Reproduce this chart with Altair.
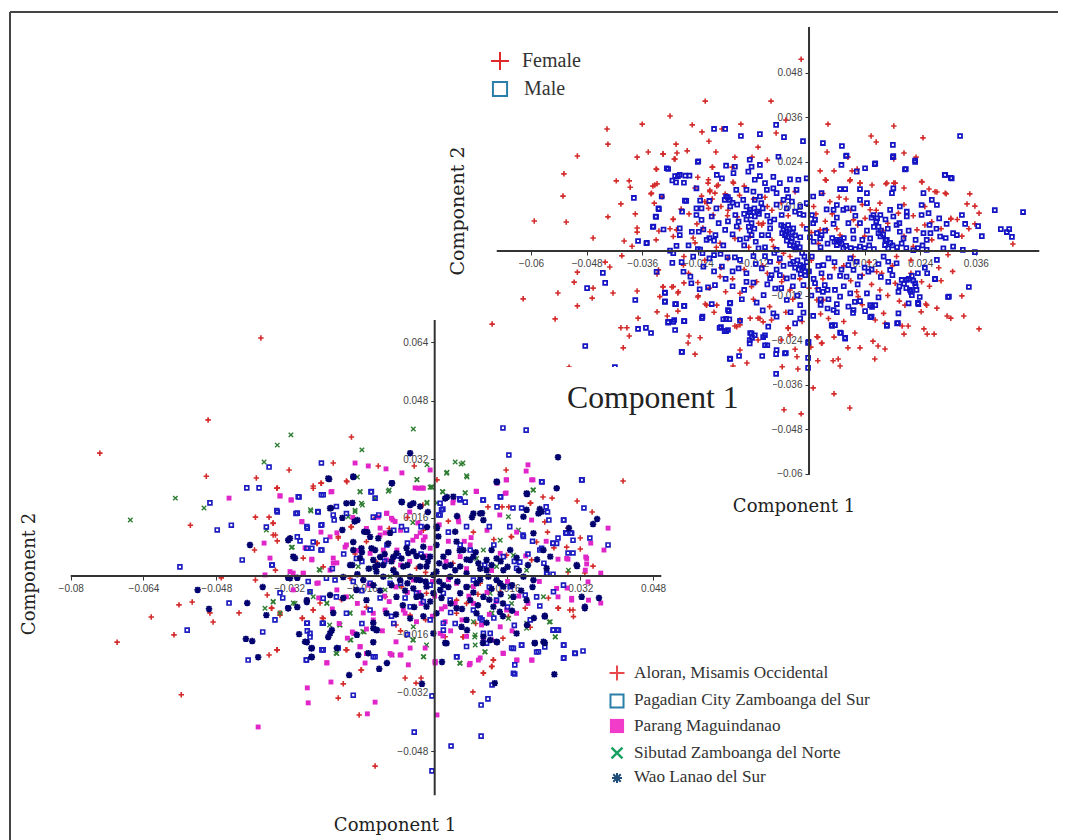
import altair as alt
import pandas as pd

female = [(-224,404),(-82,404),(-300,364),(-360,342),(-252,340),(-147,342),(-436,329),(-434,288),(-231,321),(-188,329),(-216,296),(-287,288),(-500,256),(-371,253),(-347,267),(-315,261),(-263,270),
(-17,517),(-50,353),(-71,318),(41,342),(183,337),(134,310),(145,294),(246,305),(39,267),(205,264),(231,253),(84,253),(183,248),(24,216),(54,216),(93,216),(104,221),(88,189),(110,183),(136,178),(166,181),(183,183),(205,170),(244,186),(259,167),(276,159),(296,154),(347,154),(341,127),(358,121),(367,102),(306,86),(358,73),(440,19),(37,191),
(367,-210),(330,-121),(298,-175),(306,-181),(334,-175),(276,-154),(252,-143),(242,-164),(248,-210),(255,-224),(270,-224),(205,-224),(214,-202),(201,-202),(164,-264),(149,-256),(138,-243),(142,-291),(110,-261),(84,-261),(99,-221),(54,-232),(63,-291),(67,-310),(52,-296),(19,-296),(19,-232),(28,-248),(4,-259),(-26,-285),(-24,-318),(-58,-312),(-45,-207),(-41,-226),(9,-369),(54,-385),(88,-423),(-17,-439),(-54,-428),
(-404,-13),(-430,-43),(-440,-30),(-500,-57),(-507,-84),(-466,-100),(-468,-127),(-542,-113),(-617,-129),(-500,-148),(-548,-183),(-684,-197),(-423,-113),(-371,-108),(-328,-164),(-369,-181),(-306,-175),(-283,-162),(-283,-113),(-328,-62),(-315,-97),(-296,-97),(-270,-86),(-406,-207),(-393,-207),(-388,-229),(-401,-261),(-259,-229),(-235,-234),(-261,-248),(-246,-278),(-518,-313),(-164,-310),(-134,-302),(-149,-267),(-199,-146),(-240,-124),(-224,-143),(-127,-181),(-110,-181),(-149,-199),(-160,-202),
(-593,81),(-524,78),(-531,148),(-529,208),(-416,189),(-434,92),(-406,127),(-466,35),(-388,189),(-386,172),(-375,100),(-371,62),(-371,51),(-399,27),(-382,13),(-330,221),(-337,175),(-328,181),(-341,154),(-334,129),(-317,146),(-293,86),(-324,54),(-276,113),(-259,100),(-285,264),(-291,248),(-201,267),(-160,253),(-110,280),(-166,226),(-209,226),(-240,199),(-218,183),(-199,175),(-181,154),(-164,186),(-214,164),(-220,129),(-209,140),(-203,156),(-242,73),(-229,62),(-175,110),(-155,92),(-99,75),(-90,245),(-123,253),
(-333,178),(-340,156),(-329,220),(-315,262),(-289,248),(-208,226),(-217,192),(-214,160),(-196,178),(-163,183),(-225,133),(-217,115),(-207,97),(-293,85),(-286,57),(-293,39),(-214,52),(-246,22),(-192,21),(-160,34),(-109,75),(-102,70),(-127,39),(-77,12),(-55,-6),(-41,-15),(24,57),(38,57),(67,43),(45,133),(35,192),(89,192),(110,183),(168,183),(186,183),(243,187),(272,160),(294,156),(265,79),(306,88),(132,111),(121,88),(96,84),(153,129),(193,102),(233,57),(225,12),(189,-15),(146,-56),(157,-60),(103,-110),(106,-123),(153,-105),(186,-87),(243,-83),(254,-146),(207,-146),(161,-168),(164,-195),(143,-186),(42,-182),(31,-132),(17,-101),(-41,-105),(-59,-83),(-113,-83),(-149,-114),(-124,-96),(-221,-146),(-239,-121),(-293,-96),(-315,-96),(-322,-123),(-282,-110),(-325,-51),(-271,-38),(-192,-69),(-149,-186),(-106,-182),(-81,-186),(-156,-204),(-99,-191),(-45,-209),(17,-231),(27,-249),(17,-132),
(-80,30),(-65,-30),(-20,-75),(5,-25),(20,20),(35,80),(60,60),(75,-40),(95,-15),(120,40),(130,-30),(160,55),(180,-40),(205,40),(220,-25),(250,70),(265,30),(280,-45),(300,-10),(330,40),(-100,-40),(-130,10),(-150,60),(-175,-20),(-200,10),(-225,-25),(-250,35),(-270,-15),(-300,60),(-330,30),(-120,140),(-90,120),(-60,130),(-30,160),(10,120),(50,100),(80,140),
(-246,170),(-232,148),(-190,120),(-176,95),(-150,150),(-140,175),(-95,145),(-80,110),(-45,95),(-15,70),(5,50),(15,100),(30,155),(65,145),(90,110),(105,70),(115,125),(145,110),(170,75),(205,125),(225,95),(250,120),(285,60),(320,85),(345,60),(-190,-45),(-165,-75),(-140,-50),(-90,-60),(-55,-70),(-35,-130),(0,-100),(30,-75),(55,-45),(90,-80),(115,-65),(135,-90),(170,-120),(195,-135),(220,-60),(260,-95),(285,-80),(310,-55),(-260,-60),(-240,-85),(-215,-100),(-180,-110),(-120,-130),(-85,-150),(-50,-165),(-15,-190),(25,-170),(75,-190),(115,-145),(-60,-240),(-30,-265),(-110,-240),(-205,-165)]

male = [(-66,254),(-239,242),(-128,246),(-179,230),(-160,227),(-124,227),(-106,232),(81,257),(70,232),(182,256),(229,244),(143,236),(121,223),(103,214),(207,220),(-307,223),
(-289,202),(-279,205),(-258,203),(-287,185),(-270,184),(-199,205),(-188,196),(-163,210),(-131,214),(-106,202),(-77,200),(-41,193),(-23,192),(-5,196),(-117,192),(-95,183),(-63,183),(-243,169),(67,167),(78,167),(110,167),(125,156),(182,169),(179,156),(247,156),(294,205),(308,196),(27,156),(9,147),
(-318,147),(-268,136),(-235,136),(-179,147),(-171,138),(-157,165),(-135,165),(-120,160),(-106,147),(-91,165),(-77,169),(-70,156),(-48,165),(-27,165),(-55,138),(-37,133),(-142,138),(-117,138),(-103,129),(-19,120),(-5,129),(60,124),(81,115),(96,115),(110,138),(125,129),(175,111),(196,120),(211,106),(243,124),(265,138),(276,124),
(-325,115),(-243,115),(-232,115),(-243,97),(-331,93),(-274,106),(-159,97),(-127,111),(-112,106),(-117,93),(-59,97),(-48,115),(-30,106),(-12,97),(6,97),(13,84),(38,112),(53,111),(74,111),(139,97),(154,97),(147,88),(182,93),(211,93),(243,97),(258,102),(281,88),
(-232,84),(-210,93),(-152,79),(-124,75),(-84,79),(-55,66),(-45,70),(-48,52),(-34,61),(9,75),(17,48),(27,43),(53,73),(110,75),(150,48),(154,39),(189,70),(196,52),(247,48),(262,48),(297,73),(311,48),
(-336,66),(-314,58),(-279,61),(-279,43),(-253,52),(-238,52),(-228,58),(-181,57),(-202,43),(-156,66),(-124,43),(-102,43),(-88,43),(-84,61),(-52,43),(-37,34),(-19,37),(2,37),(24,34),(67,30),(96,34),(132,34),(168,30),(204,34),(254,30),(283,39),(319,43),
(-351,21),(-286,14),(-221,30),(-205,28),(-149,31),(-135,34),(-41,16),(60,16),(74,7),(110,12),(164,16),(171,7),(254,3),(290,7),(311,12),(-235,4),(-300,1),(-109,7),(-70,3),(-30,4),
(-293,-6),(-230,-6),(-205,-11),(-191,-8),(-176,-17),(-160,-17),(-149,-24),(-120,-14),(-95,-14),(-84,-29),(-63,-20),(-34,-29),(-19,-38),(6,-15),(31,-38),(42,-20),(89,-20),(85,-38),(103,-29),(161,-15),(171,-29),(189,-33),(276,-24),(-295,-32),
(-329,-56),(-271,-56),(-256,-69),(-228,-42),(-188,-42),(-152,-47),(-102,-47),(-81,-65),(-84,-74),(-63,-65),(-48,-74),(-34,-69),(-9,-56),(-12,-42),(45,-69),(67,-67),(81,-69),(110,-69),(128,-56),(96,-51),(27,-60),(211,-78),(222,-67),(272,-76),(175,-51),
(-311,-112),(-254,-87),(-236,-103),(-218,-98),(-203,-92),(-135,-83),(-73,-101),(-98,-119),(-48,-132),(-12,-92),(13,-87),(20,-105),(34,-92),(56,-105),(67,-123),(89,-114),(125,-114),(171,-83),(193,-110),(218,-105),(229,-87),(222,-119),
(-311,-136),(-289,-143),(-269,-148),(-210,-143),(-171,-141),(-113,-139),(-19,-146),(42,-130),(60,-143),(85,-150),(99,-137),(132,-146),(143,-146),(215,-141),(236,-143),(302,-123),
(-230,-177),(-175,-159),(-185,-184),(-172,-184),(-149,-188),(-304,-193),(-293,-191),(-269,-189),(-289,-213),(-77,-168),(-70,-177),(-12,-166),(-19,-182),(-30,-195),(9,-175),(53,-159),(49,-200),(96,-159),(135,-177),(193,-168),(190,-195),(168,-200),
(-352,-207),(-341,-221),(-193,-207),(-182,-216),(-175,-213),(-124,-222),(-117,-227),(-128,-240),(-128,-249),(-95,-227),(-88,-204),(-95,-254),(-70,-267),(-52,-276),(-275,-272),(-171,-290),(-1,-245),(56,-200),(67,-220),(78,-236),
(-205,329),(-181,329),(-71,340),(-106,315),(-147,310),(-240,240),(-304,221),(-283,202),(-267,203),(-295,190),(-378,143),(-324,113),(-330,92),(-337,65),(-369,27),(-350,22),(-265,135),
(326,310),(181,286),(71,283),(30,291),(-13,296),(-54,307),(80,256),(142,234),(209,221),(229,240),(181,253),(293,205),(306,197),(330,97),(337,73),(365,67),(373,40),(401,110),(462,105),(414,59),(427,51),(432,59),(438,38),(358,-3),(332,3),
(-445,-59),(-440,-86),(-479,-100),(-375,-132),(-311,-113),(-311,-137),(-287,-143),(-270,-148),(-369,-210),(-483,-256),(-304,-191),(-291,-186),(-270,-189),(-231,-181),(-170,-140),(-173,-162),(-179,-183),(-190,-205),(-179,-216),(-274,-272),(-170,-291),(-151,-283),(-101,-283),(-71,-278),(-127,-221),(-123,-234),(-99,-232),(-90,-254),(-71,-331),(-419,-313),
(272,-75),(345,-97),(300,-124),(192,-194),(168,-202),(78,-234),(69,-221),(50,-202),(136,-151),(121,-162),(95,-167),(132,-178),(235,-140),(239,-124),(-2,-248),(-2,-315),(-2,-288),(-50,-275),
(-60,70),(-55,58),(-50,45),(-44,38),(-38,25),(-33,14),(-28,8),(-58,48),(-42,58),(-30,42),(-48,28),(-36,50),(-25,20),(-20,10),(-15,-5),(-10,-15),(-5,-30),(-15,-45),(-22,-50),(-8,-65),(-30,-45),(-40,-35),(-25,-25),(0,-55),(-18,-62),
(60,30),(65,25),(70,20),(55,25),(75,35),(80,14),(90,8),(100,5),(50,35),
(135,90),(145,80),(150,65),(155,55),(140,65),(160,45),(165,30),(175,22),(180,15),(190,10),(200,20),(210,8),(225,2),(235,8),(130,15),(120,8),(140,5),
(215,-75),(225,-80),(230,-95),(220,-110),(210,-100),(205,-88),(232,-105),(200,-78),(195,-95),
(-135,120),(-128,105),(-118,115),(-108,100),(-125,95),(-100,115),(-175,145),(-182,138),(-165,130),(-170,120),(-155,125),(-140,100),(-135,85),(-128,55),(-130,65),(-118,60),
(-90,95),(-75,85),(-70,125),(-45,145),(-20,100),(-5,60),(10,25),(25,10),(40,20),(35,55),(60,90),(85,75),(95,55),(115,30),(125,55),(100,95),(165,85),(170,60),(195,75),(215,55),(230,30),(245,15),(260,70),(275,60),(295,35),(-200,115),(-215,135),(-195,75),(-175,80),(-165,45),(-140,15),(-115,25),(-95,10),(-75,-5),(-55,-40),(-70,-50),(-115,-35),(-135,-60),(-165,-55),(-205,-55),(-180,-75),(-165,-95),(-140,-105),(-120,-85),(-90,-90),(-60,-100),(-35,-95),(-25,-120),(5,-120),(25,-130),(40,-105),(75,-95),(105,-90),(120,-45),(135,-50),(150,-35),(155,-70),(70,-50),(55,-30),(20,-40),(10,-75),(30,-110),(60,-165),(40,-155),(25,-145),(110,-135),(150,-125),(180,-65),(250,-45),(255,-60),(235,-60),(-250,-15),(-275,-30),(-215,-20),(-240,5),(-260,15),(-215,35),(-185,15),(-145,-130),(-100,-160),(-40,-165)]

aloran = [(-382,651),(-498,427),(-736,336),(-502,273),(-183,380),(-320,290),(-392,268),(-346,241),(-537,139),(-394,161),(-364,161),(-355,145),(-350,112),(-346,96),(-396,71),(-267,246),(-249,254),(-194,260),(-223,309),(-124,301),(-45,301),(-183,134),(-212,104),(-289,49),(-258,90),(-350,16),(-469,-5),(-394,-11),(-245,25),(-26,194),(5,263),
(414,260),(157,290),(269,241),(238,216),(258,213),(313,205),(346,175),(211,200),(242,148),(248,120),(293,131),(320,104),(163,189),(148,189),(117,189),(169,107),(224,93),(262,77),(290,79),(320,74),(348,27),(330,8),(293,11),(271,-88),(304,-93),
(-562,-79),(-533,-71),(-494,-101),(-487,-126),(-623,-112),(-698,-181),(-573,-161),(-557,-325),(-430,-101),(-368,-52),(-359,-88),(-340,-101),(-364,-216),(-346,-202),(-291,-115),(-267,-93),(-247,-115),(-252,-74),(-195,-202),(-162,-257),(-201,-295),(-212,-334),(-166,-380),(-65,-279),(-41,-293),(-30,-279),(-131,-520),
(84,-317),(107,-265),(126,-247),(129,-229),(62,-167),
(-347,240),(-267,240),(-250,254),(-193,258),(-355,144),(-355,112),(-184,135),(-212,108),(-259,89),(-150,94),(-40,21),(-18,-47),(48,-102),(23,-166),(63,-166),(129,-230),(125,-248),(107,-266),(272,-88),(297,-93),(305,-111),(168,108),(210,199),(158,57),(213,44),(199,-88),(162,-111),(-186,-6),(-267,-93),(-245,-116),(-291,-116),(-340,-107),(-358,-88),(-193,-202),(-161,-257),(-347,-202),(-85,-134),(-54,-107),(-73,-29),(-109,-57),(48,-66),(70,-75),(100,-20),
(-130,160),(-100,130),(-60,160),(-25,125),(30,150),(85,120),(130,100),(-175,60),(-130,40),(-90,20),(-20,10),(40,35),(95,-50),(145,-45),(-205,-65),(-150,-85),(-75,-150),(-20,-120),(90,-130),(150,-170),(210,-140),(250,-60)]

pagadian = [(-364,298),(-249,309),(-413,241),(-386,241),(-298,216),(-245,222),(-494,200),(-346,175),(-478,126),(-447,139),(-560,25),(-423,44),(-302,172),(-370,134),(-280,131),(-250,139),(-239,98),(-302,107),(-296,96),(-267,93),(-250,71),(-357,30),(-256,175),(-221,153),(-140,230),(-131,213),(-135,161),
(150,405),(201,399),(163,331),(236,257),(324,263),(145,216),(106,208),(137,189),(172,186),(191,186),(248,175),(245,189),(251,153),(284,153),(328,186),(288,118),(299,118),(304,98),(271,104),(341,104),(381,85),(260,90),(304,63),(293,63),(231,71),(247,5),(260,5),(187,38),(194,112),(55,211),(67,202),(9,167),(18,183),
(-452,-74),(-544,-148),(-378,-153),(-410,-230),(-334,-60),(-340,-46),(-351,-120),(-280,-129),(-280,-150),(-274,-167),(-247,-129),(-245,-202),(-282,-230),(-131,-221),(-179,-326),(-45,-427),(-6,-328),(-6,-533),(-212,-197),
(36,-465),(102,-438),(102,-353),(117,-336),(126,-298),(176,-243),(176,-268),(284,-189),(284,-224),(308,-211),(326,-205),(224,-208),(169,-197),(242,-194),(191,-189),(49,-221),(260,-148),(269,-148),(104,-120),(231,-82),
(-347,179),(-305,171),(-257,176),(-248,140),(-281,135),(-300,217),(-249,222),(-223,167),(-216,190),(-139,231),(-194,171),(-123,167),(-73,135),(-62,126),(12,167),(15,181),(56,208),(107,208),(144,217),(235,258),(323,263),(283,153),(301,117),(290,117),(268,89),(260,89),(235,76),(-172,48),(-281,76),(-270,76),(-248,71),(-358,30),(-278,-15),(-238,-6),(-219,-11),(-179,-15),(-245,-61),(-274,-43),(-245,-129),(-281,-129),(-274,-157),(-248,-202),(-282,-230),(-135,-221),(107,-157),(122,-157),(114,-184),(173,-266),(173,-198),(191,-189),(228,-207),(283,-189),(283,-225),(309,-212),(261,-148),(272,-148),(199,-52),(224,-57),(261,-43),(283,-25),(246,7),(12,199),(56,85),(78,71),(151,53),(195,108),(180,21),(85,-11),(19,-47),(-40,-47),(-98,-20),(-142,-20),(-54,-84),(34,-66),(85,-93),(136,-66),(166,-29),(19,-129),(19,-148),(48,-221),(70,-193),(-10,-120),(-142,-93),(-194,-102),(-216,-57),
(-30,60),(-80,55),(-110,40),(30,65),(110,30),(130,85),(175,40),(215,95),(70,-30),(120,-30),(-10,-25),(-65,-60),(-120,-60),(-160,40),(160,-85),(100,-115),(45,-130),(-90,-130),(-160,-130),(-60,90),
(-200,60),(-225,20),(-160,-40),(-105,85),(-90,125),(-30,135),(30,120),(70,135),(120,135),(165,135),(205,60),(240,35),(35,-100),(-25,-70),(-75,-20),(-95,-110),(130,-115),(175,-135),(210,-120),(-60,-160)]

parang = [(-43,241),(-175,309),(-146,301),(-107,293),(-72,282),(-10,290),(-452,213),(-340,219),(-316,208),(-228,230),(-375,90),(-362,49),(-292,148),(-285,77),(-270,44),(-197,79),(-215,118),(-230,107),(-223,49),(-215,36),(-311,8),(-289,8),(-124,161),(-105,172),(-92,153),(-120,131),(-109,118),(-37,145),(-32,118),(-83,71),(-92,44),(-48,98),(-21,107),
(205,304),(201,287),(157,263),(216,263),(137,254),(91,232),(157,227),(-28,241),(40,200),(51,161),(53,148),(143,167),(381,131),(343,90),(372,71),(332,52),(334,33),(365,8),(271,46),(293,46),(337,-16),(271,-57),(301,-66),(338,-66),(365,-74),(291,-33),
(-388,-413),(-278,-347),(-280,-306),(-148,-377),(-131,-345),(-228,-290),(-237,-238),(-153,-238),(-164,-194),(-181,-153),(-192,-170),(-94,-216),(-74,-216),(-58,-243),(-54,-197),(1,-238),(5,-380),(-157,-101),(-135,-120),(-256,-19),(-373,3),(-311,-38),(-215,-38),
(214,-230),(76,-243),(100,-224),(150,-211),(181,-230),(1,-235),(-21,-197),(18,-164),
(-340,219),(-315,208),(-226,231),(-292,149),(-270,46),(-318,12),(-289,7),(-230,16),(-223,35),(-194,85),(-106,171),(-120,112),(-95,158),(-87,149),(-36,240),(-25,240),(41,208),(52,153),(92,231),(155,226),(158,263),(213,263),(213,153),(290,48),(334,48),(331,16),(268,-34),(301,-61),(-113,71),(-106,44),(-142,62),(-40,108),(-25,98),(-10,76),(78,85),(144,62),(56,53),(-47,-11),(48,-20),(85,-29),(-69,-93),(-65,-102),(-109,-93),(-135,-102),(-194,-57),(-259,-20),(23,-125),(45,-75),(23,-84),(103,-134),(180,-102),(158,-93),(107,-175),(144,-139),(151,-212),(180,-230),(96,-230),(78,-239),(1,-234),(-76,-216),(-98,-212),(-164,-193),(-178,-157),(-150,-212),(-237,-237),(12,-157),(213,-230),
(-75,30),(-55,40),(-20,55),(-5,-15),(25,40),(30,-10),(65,95),(70,20),(115,-45),(125,15),(160,-15),(200,55),(230,-15),(-145,-25),(-170,70),(-60,-45),(-30,-75),(-5,-110),(60,-120),(120,-105),(-100,-70),(-225,-90),(-150,-145),(205,-75),
(-250,120),(-180,160),(-150,130),(-75,125),(-55,175),(10,140),(30,95),(80,105),(115,125),(180,120),(245,95),(-255,-60),(-170,-75),(-110,-55),(-85,-30),(-35,-45),(0,-55),(15,-90),(75,-55),(85,-75),(135,-70),(185,-55),(-40,-125),(35,-150),(70,-165),(125,-175),(170,-150),(-115,-150),(-210,-130),(-85,-180)]

sibutad = [(-47,402),(-316,386),(-346,358),(-160,345),(-375,312),(-570,213),(-507,186),(-669,153),(-39,263),(-17,304),(-170,271),(-164,230),(-102,232),(-159,194),(-175,180),(-272,178),(-370,126),(-313,79),(-252,16),(-17,202),(-10,243),(5,200),
(45,312),(58,306),(62,309),(27,284),(71,271),(-6,243),(67,227),(216,235),(18,230),
(-355,-71),(-373,-88),(-340,-101),(-311,-74),(-274,-44),(-237,-74),(-208,-134),(-186,-101),(-155,-153),(-184,-175),(-217,-211),(-94,-216),(-48,-175),(-24,-221),
(55,-238),(265,-167),(88,-167),(110,-208),(252,-126),(126,-101),
(-273,181),(-164,231),(-131,212),(-161,199),(-175,176),(-190,162),(-100,235),(-39,264),(-7,244),(26,281),(70,274),(67,228),(17,231),(-17,199),(-48,146),(217,235),(162,162),(184,126),(-315,78),(-254,18),(-168,26),(-142,21),(144,98),(107,71),(92,48),(173,57),(136,26),(202,16),(294,16),(-109,-38),(-80,-29),(-98,-2),(78,-29),(122,-47),(166,-57),(239,-57),(169,-75),(-267,-57),(-355,-70),(-307,-75),(-237,-75),(-183,-57),(-186,-102),(-231,-134),(-209,-134),(-158,-152),(-47,-175),(-47,-139),(-18,-189),(85,-125),(125,-102),(162,-116),(254,-125),(265,-166),(111,-207),(89,-189),(89,-161),(56,-239),(-25,-221),(-215,-212),(-186,-175),(202,-143),(202,-129)]

wao = [(-406,85),(-54,336),(-232,265),(-94,254),(-179,271),(-228,186),(-203,159),(-203,126),(-181,200),(-170,153),(-72,202),(-54,194),(-15,175),(-142,107),(-98,118),(-322,98),(-307,49),(-179,93),(-148,120),(-131,71),(-120,52),(-91,52),(-58,63),(-26,52),(-181,30),(-164,49),(-17,134),(-322,-5),(-302,-5),(-131,25),(-201,-3),
(271,325),(203,224),(137,257),(231,183),(27,216),(357,156),(348,142),(295,131),(104,172),(82,161),(49,164),(5,131),(313,27),(330,-88),(361,-60),
(-412,-74),(-378,-30),(-496,-90),(-521,-38),(-415,-172),(-401,-178),(-388,-222),(-370,-107),(-322,-88),(-302,-85),(-281,-71),(-281,-181),(-270,-197),(-270,-222),(-298,-159),(-230,-52),(-201,-60),(-223,-101),(-234,-167),(-226,-148),(-215,-197),(-168,-216),(-146,-211),(-188,-271),(-122,-254),(-105,-238),(-171,-161),(-135,-181),(-28,-295),(-135,-128),(-127,-148),
(16,-235),(132,-293),(263,-269),(242,-109),(218,-115),(242,-183),(220,-183),(114,-128),(143,-98),(71,-148),(23,-183),(106,-183),(137,-181),(203,-134),
(-179,71),(-161,76),(-139,76),(-124,103),(-102,89),(-84,62),(-73,48),(-62,76),(-47,67),(-10,53),(-32,26),(4,85),(19,53),(48,94),(63,71),(78,44),(100,171),(107,153),(96,35),(114,44),(125,71),(136,48),(151,16),(166,71),(195,162),(235,176),(217,117),(239,71),(254,53),(4,12),(-3,3),(-18,26),(-54,-2),(-76,-11),(-113,-2),(-128,12),(-157,-11),(-186,30),(-318,-6),(-311,53),(-318,103),(-230,185),(-194,199),(-176,149),(-155,121),(-73,203),(-47,199),(-94,254),(4,135),(8,108),(45,121),(23,26),(45,16),(70,7),(92,-20),(118,-2),(136,-11),(151,-29),(195,-2),(217,-11),(-40,-57),(-10,-70),(12,-38),(56,-47),(78,-66),(107,-57),(129,-84),(-18,-29),(-84,-57),(-106,-102),(-150,-66),(-172,-38),(-281,-66),(-322,-88),(-230,-157),(-285,-180),(-271,-198),(-271,-221),(-135,-143),(-128,-148),(-3,-157),(26,-184),(59,-139),(107,-166),(122,-175),(136,-180),(180,-157),(239,-180),(220,-184),(242,-111),(330,-84),(323,-57),(246,21),(312,30),(202,226),(136,258),(-234,267),(-179,272),(-32,190),(85,171),(41,217),(23,212),(228,171),(268,240),(202,181),(-69,26),(-91,16),(-113,30),(-135,44),(-32,-11),(-47,-34),(-18,-84),(4,-102),(-54,-116),(48,-88),(70,-120),(92,-102),(173,-57),(202,-66),(144,-20),(114,16),(85,53),(56,26),(34,-2),(19,-25),(-3,-47),
(-60,30),(-40,55),(-25,80),(-15,40),(10,35),(30,65),(35,30),(55,70),(70,45),(90,65),(100,20),(125,30),(145,40),(160,25),(180,50),(185,15),(205,30),(225,45),(-95,40),(-110,60),(-125,30),(-145,20),(-160,65),(-170,5),(-85,5),(-60,-20),(-40,-10),(-20,-15),(10,-15),(30,-30),(50,-15),(70,-30),(85,-45),(100,-10),(125,-35),(145,-50),(170,-25),(190,-40),(215,-30),(-65,-40),(-30,-55),(-95,-25),(-120,-40),(-135,-25),(15,-60),(35,-75),(60,-90),(95,-80),(120,-65),(150,-75),(-45,-85),(-70,-80),(-85,-105),(-25,-110),(150,-110),(170,-95)]

top_x_ticks = [-0.06, -0.048, -0.036, -0.024, -0.012, 0.012, 0.024, 0.036]
top_y_ticks = [0.048, 0.036, 0.024, 0.012, -0.012, -0.024, -0.036, -0.048, -0.06]
bot_x_ticks = [-0.08, -0.064, -0.048, -0.032, -0.016, 0.016, 0.032, 0.048]
bot_y_ticks = [0.064, 0.048, 0.032, 0.016, -0.016, -0.032, -0.048]
top_x_line = [-0.0674, 0.0497]
top_y_line = [0.0604, -0.0604]
bot_x_line = [-0.08, 0.0498]
bot_y_line = [0.0700, -0.0600]

W, H = 1050, 832
PLUS = "M-1,0H1M0,-1V1"
XMARK = "M-1,-1L1,1M-1,1L1,-1"
STAR = "M-1,0H1M0,-1V1M-.75,-.75L.75,.75M-.75,.75L.75,-.75"
TICK_FONT = "Liberation Sans"
SERIF = "Liberation Serif"
LABEL_FONT = "DejaVu Serif"

top_sx = alt.Scale(domain=[-0.17289, 0.05374], nice=False, zero=False)
top_sy = alt.Scale(domain=[-0.15876, 0.06550], nice=False, zero=False)
bot_sx = alt.Scale(domain=[-0.09378, 0.13699], nice=False, zero=False)
bot_sy = alt.Scale(domain=[-0.07221, 0.15536], nice=False, zero=False)


def frame(pairs):
    return pd.DataFrame({"x": [p[0] / 1e4 for p in pairs], "y": [p[1] / 1e4 for p in pairs]})


def axis(orient, ticks, offset):
    return alt.Axis(orient=orient, values=ticks, offset=offset, title=None, domain=False, grid=False,
                    format=".3~f", tickSize=4, tickColor="#333", tickWidth=1, labelFont=TICK_FONT,
                    labelFontSize=10, labelColor="#444", labelOverlap=False, labelPadding=3,
                    labelBound=False, labelFlush=False)


class Panel:
    def __init__(self, sx, sy, xticks, yticks, xoff, yoff):
        self.x = alt.X("x:Q", scale=sx, axis=axis("bottom", xticks, xoff))
        self.y = alt.Y("y:Q", scale=sy, axis=axis("left", yticks, yoff))

    def scatter(self, pairs, shape, color, size, sw, filled=False):
        return alt.Chart(frame(pairs)).mark_point(shape=shape, color=color, size=size, strokeWidth=sw,
                                                  filled=filled, opacity=1).encode(x=self.x, y=self.y)

    def lines(self, xline, yline):
        a = alt.Chart(pd.DataFrame({"x": xline, "y": [0.0, 0.0]})).mark_line(color="#333", strokeWidth=2).encode(
            x=self.x, y=self.y)
        b = alt.Chart(pd.DataFrame({"x": [0.0, 0.0], "y": yline})).mark_line(color="#333", strokeWidth=2).encode(
            x=self.x, y=self.y)
        return [a, b]


one = alt.Data(values=[{"a": 1}])


def txt(s, px, py, font, size, color="#222", angle=None, align="left"):
    kw = {"angle": angle} if angle is not None else {}
    return alt.Chart(one).mark_text(text=s, font=font, fontSize=size, color=color, align=align,
                                    baseline="middle", **kw).encode(
        x=alt.value(px - 8), y=alt.value(py - 8))


def sym(px, py, shape, color, size, sw, filled=False):
    return alt.Chart(one).mark_point(shape=shape, color=color, size=size, strokeWidth=sw, filled=filled,
                                     opacity=1).encode(x=alt.value(px - 8), y=alt.value(py - 8))


top = Panel(top_sx, top_sy, top_x_ticks, top_y_ticks, -(H - 243), -801)
top_panel = alt.layer(
    top.scatter(female, PLUS, "#d42a2a", 30, 1.6),
    top.scatter(male, "square", "#1414c4", 15, 1.8),
    *top.lines(top_x_line, top_y_line),
)

white_box = alt.Chart(one).mark_rect(color="white").encode(
    x=alt.value(552), x2=alt.value(765), y=alt.value(359), y2=alt.value(414))

bot = Panel(bot_sx, bot_sy, bot_x_ticks, bot_y_ticks, -(H - 568), -(434.7 - 8))
bottom_panel = alt.layer(
    bot.scatter(aloran, PLUS, "#d42a2a", 30, 1.6),
    bot.scatter(sibutad, XMARK, "#2e7d32", 20, 1.4),
    bot.scatter(parang, "square", "#e026c8", 24, 0, filled=True),
    bot.scatter(pagadian, "square", "#1c1cc0", 15, 1.7),
    bot.scatter(wao, STAR, "#00006e", 42, 1.8),
    *bot.lines(bot_x_line, bot_y_line),
)

border = [
    alt.Chart(one).mark_rule(color="#444", strokeWidth=2).encode(x=alt.value(2), x2=alt.value(W), y=alt.value(4)),
    alt.Chart(one).mark_rule(color="#444", strokeWidth=2).encode(x=alt.value(2), y=alt.value(4), y2=alt.value(H)),
]

notes = [
    txt("Component 1", 567, 398, SERIF, 31.7),
    txt("Component 1", 794, 507, LABEL_FONT, 18, align="center"),
    txt("Component 2", 458, 211, LABEL_FONT, 19, angle=270, align="center"),
    txt("Component 2", 30, 574, LABEL_FONT, 18, angle=270, align="center"),
    txt("Component 1", 395, 826, LABEL_FONT, 18, align="center"),
    sym(500, 61, PLUS, "#e02a2a", 324, 2),
    sym(500, 89, "square", "#2a7fa8", 200, 2),
    txt("Female", 522, 61, SERIF, 20, "#333"),
    txt("Male", 524, 89, SERIF, 20, "#333"),
    sym(617, 673, PLUS, "#e8484a", 225, 2),
    sym(617, 701, "square", "#2a7fa8", 170, 2),
    sym(617, 726, "square", "#f03cc8", 200, 0, filled=True),
    sym(617, 753, XMARK, "#1aa060", 120, 2.5),
    sym(617, 778, STAR, "#1f4d78", 100, 2),
    txt("Aloran, Misamis Occidental", 634, 673, SERIF, 17.2, "#333"),
    txt("Pagadian City Zamboanga del Sur", 634, 700, SERIF, 17.2, "#333"),
    txt("Parang Maguindanao", 634, 726, SERIF, 17.2, "#333"),
    txt("Sibutad Zamboanga del Norte", 634, 753, SERIF, 17.2, "#333"),
    txt("Wao Lanao del Sur", 634, 777, SERIF, 17.2, "#333"),
]

chart = alt.layer(*border, top_panel, white_box, bottom_panel, *notes).resolve_scale(
    x="independent", y="independent"
).properties(
    width=W, height=H, padding=0, autosize=alt.AutoSizeParams(type="none"), background="white"
).configure_view(stroke=None)

chart.save("out.html", embed_options={"renderer": "svg", "actions": False})
